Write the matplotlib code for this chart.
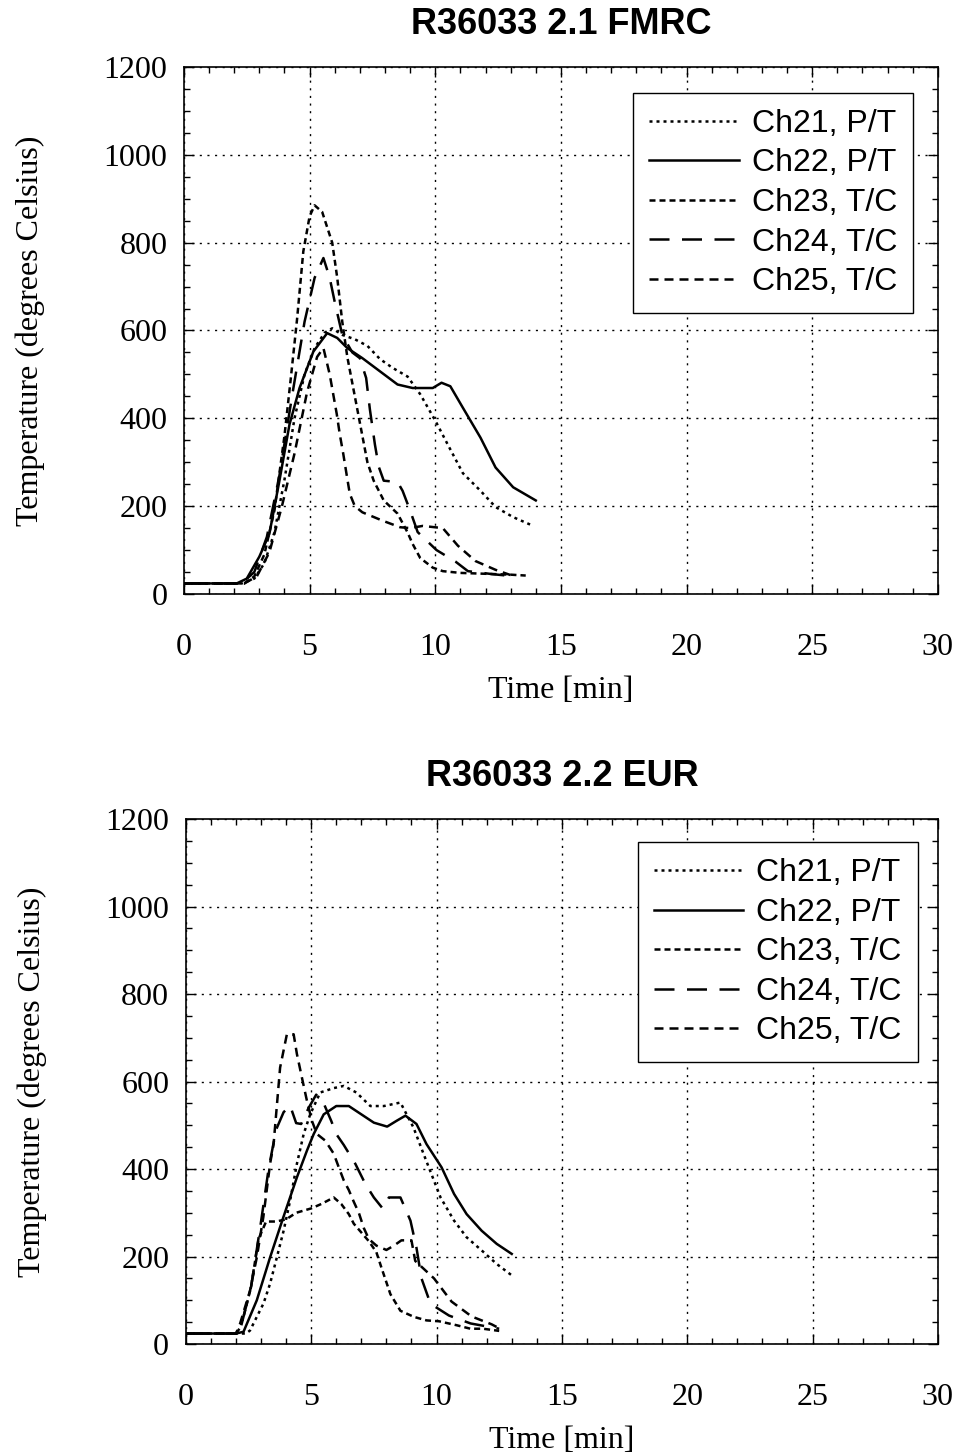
import numpy as np
import matplotlib
import matplotlib.pyplot as plt
from matplotlib.ticker import MultipleLocator

matplotlib.use('agg')

# ---- data (time in min, temperature in deg C) ----
labels = ['Ch21, P/T', 'Ch22, P/T', 'Ch23, T/C', 'Ch24, T/C', 'Ch25, T/C']

# panel 1 : R36033 2.1 FMRC
fm_t21 = [0, 2.3, 2.8, 3.2, 3.6, 4.0, 4.4, 4.8, 5.2, 5.6, 5.9, 6.3, 6.8, 7.3, 7.8, 8.3, 8.9, 9.4, 10.0, 10.5, 11.1, 11.8, 12.4, 13.1, 13.9]
fm_y21 = [24, 24, 35, 70, 140, 260, 400, 500, 560, 595, 605, 590, 580, 565, 535, 515, 495, 455, 395, 340, 275, 235, 198, 175, 155]

fm_t22 = [0, 2.1, 2.5, 3.0, 3.4, 3.8, 4.2, 4.6, 5.15, 5.7, 6.1, 6.5, 7.1, 7.8, 8.5, 9.1, 9.9, 10.25, 10.6, 11.1, 11.8, 12.4, 13.1, 14.0]
fm_y22 = [24, 24, 35, 85, 137, 258, 386, 469, 552, 594, 583, 560, 537, 507, 477, 469, 469, 481, 473, 424, 356, 288, 243, 213]

fm_t23 = [0, 2.4, 2.8, 3.2, 3.6, 4.0, 4.25, 4.5, 4.75, 5.0, 5.2, 5.5, 5.9, 6.1, 6.3, 6.5, 6.7, 6.9, 7.1, 7.3, 7.55, 7.95, 8.5, 8.9, 9.1, 9.4, 9.9, 10.3, 11.0, 12.0, 13.0, 13.6]
fm_y23 = [24, 24, 40, 90, 190, 360, 490, 625, 780, 860, 885, 870, 800, 720, 620, 540, 480, 420, 360, 300, 258, 213, 183, 140, 114, 82, 60, 52, 48, 46, 44, 42]

fm_t24 = [0, 2.3, 2.8, 3.3, 3.8, 4.3, 4.8, 5.2, 5.55, 5.8, 6.0, 6.3, 6.7, 7.0, 7.25, 7.4, 7.6, 7.75, 7.95, 8.5, 8.7, 9.0, 9.3, 10.05, 10.8, 11.3, 12.3, 13.2]
fm_y24 = [24, 24, 50, 130, 270, 450, 620, 720, 765, 720, 665, 590, 550, 537, 492, 420, 340, 290, 258, 255, 235, 190, 141, 100, 74, 52, 45, 40]

fm_t25 = [0, 2.4, 2.9, 3.4, 3.9, 4.4, 4.9, 5.3, 5.55, 5.8, 6.08, 6.2, 6.34, 6.47, 6.6, 6.8, 7.1, 7.9, 8.6, 9.0, 9.5, 10.3, 10.9, 11.6, 12.4, 13.0]
fm_y25 = [24, 24, 40, 95, 200, 320, 460, 540, 560, 500, 410, 364, 319, 273, 228, 200, 186, 167, 152, 150, 155, 150, 110, 75, 55, 43]

# panel 2 : R36033 2.2 EUR
eu_t21 = [0, 2.4, 2.56, 3.1, 3.36, 3.63, 3.9, 4.16, 4.43, 4.7, 4.96, 5.36, 5.9, 6.3, 6.8, 7.36, 7.9, 8.56, 9.08, 9.48, 10.16, 10.7, 11.2, 11.8, 12.4, 13.0]
eu_y21 = [24, 24, 31, 93, 138, 198, 259, 328, 412, 480, 525, 575, 585, 590, 575, 544, 544, 552, 495, 435, 335, 282, 244, 214, 183, 157]

eu_t22 = [0, 2.0, 2.3, 2.83, 3.36, 3.89, 4.43, 4.83, 5.1, 5.5, 6.0, 6.5, 7.0, 7.5, 8.03, 8.4, 8.76, 9.2, 9.6, 10.2, 10.7, 11.2, 11.8, 12.4, 13.0]
eu_y22 = [24, 24, 28, 100, 198, 290, 381, 442, 480, 525, 544, 544, 525, 506, 497, 510, 522, 503, 457, 404, 343, 297, 259, 229, 206]

eu_t23 = [0, 2.0, 2.2, 2.6, 2.9, 3.2, 3.6, 4.0, 4.4, 5.0, 5.4, 5.9, 6.2, 6.5, 6.7, 7.0, 7.3, 7.6, 7.8, 8.16, 8.56, 9.1, 9.6, 10.1, 10.8, 11.35, 11.85, 12.5]
eu_y23 = [24, 24, 40, 130, 240, 280, 280, 285, 300, 310, 320, 335, 320, 297, 275, 255, 235, 210, 175, 114, 76, 62, 54, 52, 43, 35, 35, 30]

eu_t24 = [0, 2.0, 2.2, 2.6, 3.0, 3.3, 3.6, 3.9, 4.16, 4.4, 4.6, 4.9, 5.2, 5.5, 5.8, 6.0, 6.3, 6.76, 7.16, 7.5, 7.85, 8.1, 8.56, 8.96, 9.2, 9.4, 9.76, 10.5, 11.36, 12.5]
eu_y24 = [24, 24, 40, 130, 280, 400, 490, 530, 545, 505, 503, 540, 570, 550, 510, 480, 455, 412, 366, 335, 310, 335, 335, 282, 220, 150, 92, 65, 47, 35]

eu_t25 = [0, 2.0, 2.16, 2.56, 2.83, 3.09, 3.36, 3.5, 3.76, 4.03, 4.3, 4.43, 4.63, 4.83, 5.03, 5.23, 5.56, 5.9, 6.1, 6.3, 6.5, 6.7, 6.9, 7.1, 7.3, 7.6, 8.0, 8.3, 8.6, 9.0, 9.15, 9.9, 10.6, 11.4, 12.2, 12.5]
eu_y25 = [24, 24, 46, 122, 198, 290, 412, 457, 632, 708, 708, 663, 609, 556, 510, 480, 465, 435, 404, 374, 352, 325, 300, 265, 240, 225, 215, 225, 237, 237, 190, 150, 97, 63, 45, 36]

titles = ['R36033 2.1 FMRC', 'R36033 2.2 EUR']

# line styles: dotted, solid, short dash, long dash, medium dash
styles = [(0, (1.2, 1.6)), '-', (0, (2.4, 1.6)), (0, (8, 5)), (0, (3.6, 2.4))]

serif = 'Liberation Serif'
sans = 'Liberation Sans'

fig = plt.figure(figsize=(9.58, 14.53), dpi=100)
ax1 = fig.add_axes([0.192, 0.5912, 0.787, 0.3627])
ax2 = fig.add_axes([0.194, 0.075, 0.785, 0.3613])

panels = [
    (ax1, [(fm_t21, fm_y21), (fm_t22, fm_y22), (fm_t23, fm_y23), (fm_t24, fm_y24), (fm_t25, fm_y25)],
     (0.967, 0.951), -0.155),
    (ax2, [(eu_t21, eu_y21), (eu_t22, eu_y22), (eu_t23, eu_y23), (eu_t24, eu_y24), (eu_t25, eu_y25)],
     (0.973, 0.956), -0.156),
]

for k, (ax, series, leg_pos, xl_y) in enumerate(panels):
    for (t, y), ls, lab in zip(series, styles, labels):
        ax.plot(t, y, color='black', linestyle=ls, lw=1.8, label=lab)

    ax.set_xlim(0, 30)
    ax.set_ylim(0, 1200)
    ax.xaxis.set_major_locator(MultipleLocator(5))
    ax.xaxis.set_minor_locator(MultipleLocator(1))
    ax.yaxis.set_major_locator(MultipleLocator(200))
    ax.yaxis.set_minor_locator(MultipleLocator(50))
    ax.tick_params(which='both', direction='in', top=True, right=True, width=1.0, colors='black')
    ax.tick_params(which='major', length=7)
    ax.tick_params(which='minor', length=4.5)
    ax.tick_params(axis='x', which='major', pad=28)
    ax.tick_params(axis='y', which='major', pad=12)
    for lab in ax.get_xticklabels() + ax.get_yticklabels():
        lab.set_fontfamily(serif)
        lab.set_fontsize(23)
    for sp in ax.spines.values():
        sp.set_linewidth(1.2)

    ax.grid(True, which='major', color='black', linestyle=(0, (1.5, 4)), lw=1.0)

    ax.set_xlabel('Time [min]', fontfamily=serif, fontsize=23)
    ax.set_ylabel('Temperature (degrees Celsius)', fontfamily=serif, fontsize=23)
    ax.xaxis.set_label_coords(0.5, xl_y)
    ax.yaxis.set_label_coords(-0.184, 0.5)
    ax.set_title(titles[k], fontfamily=sans, fontweight='bold', fontsize=26, pad=24)

    leg = ax.legend(loc='upper right', bbox_to_anchor=leg_pos, borderaxespad=0,
                    prop={'family': sans, 'size': 23}, handlelength=2.8,
                    fancybox=False, edgecolor='black', framealpha=1,
                    labelspacing=0.3, borderpad=0.5, handletextpad=0.4)
    leg.get_frame().set_linewidth(1.0)

fig.savefig('out.png', dpi=100)
